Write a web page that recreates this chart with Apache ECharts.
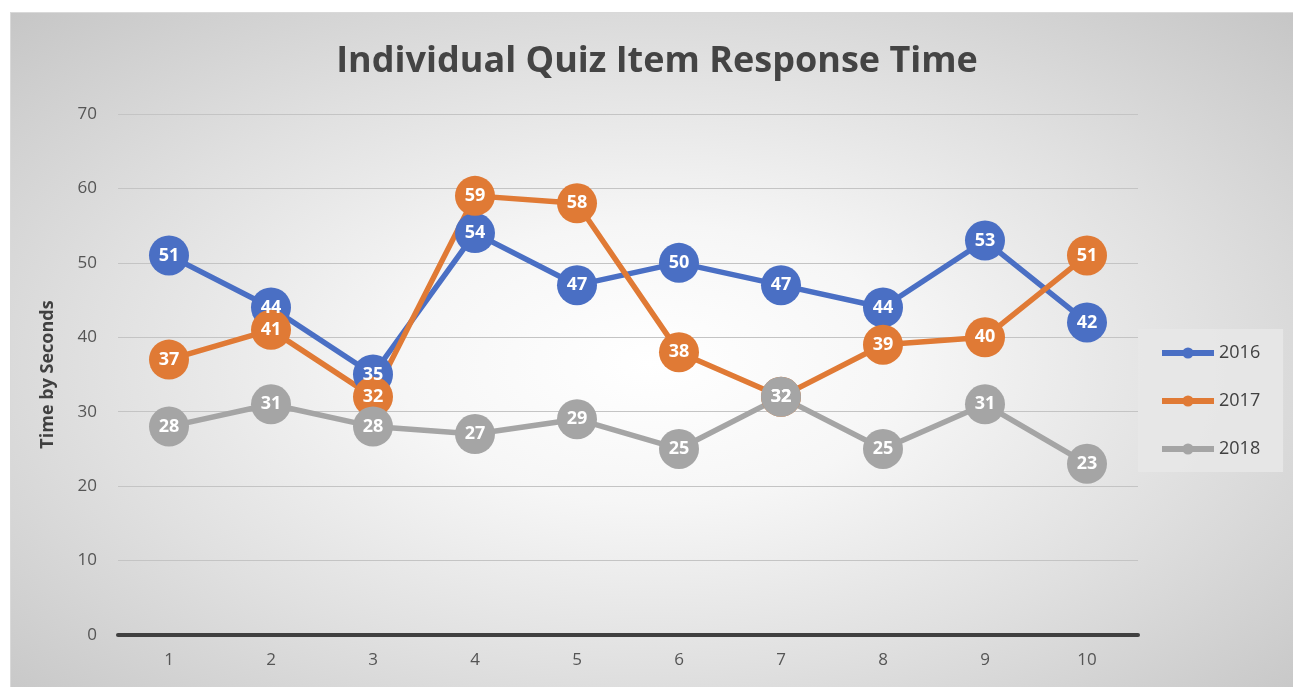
<!DOCTYPE html>
<html><head><meta charset="utf-8">
<script src="https://cdn.jsdelivr.net/npm/echarts@6/dist/echarts.min.js"></script>
<style>
html,body{margin:0;padding:0;background:#fff;}
#bg{position:absolute;left:10px;top:12px;width:1283px;height:675px;border-top:1px solid #d9d9d9;border-left:1px solid #d9d9d9;box-sizing:border-box;
background:radial-gradient(ellipse farthest-corner at 50% 52%, #ffffff 0%, #f6f6f6 28%, #e0e0e0 62%, #c6c6c6 100%);}
#chart{position:absolute;left:0;top:0;width:1293px;height:687px;}
</style></head>
<body>
<div id="bg"></div>
<div id="chart"></div>
<script>
const categories = ['1','2','3','4','5','6','7','8','9','10'];
const s2016 = [51,44,35,54,47,50,47,44,53,42];
const s2017 = [37,41,32,59,58,38,32,39,40,51];
const s2018 = [28,31,28,27,29,25,32,25,31,23];
const seriesNames = ['2016','2017','2018'];
const colors = ['#4a6fc4','#e07a35','#a5a5a5'];

const chart = echarts.init(document.getElementById('chart'), null, {renderer:'canvas'});
const font = '"Open Sans", "Noto Sans", sans-serif';
function mk(name, data, color){
  return {
    name, type:'line', data,
    symbol:'circle', symbolSize:40,
    lineStyle:{color, width:5.5},
    itemStyle:{color},
    label:{show:true, position:'inside', color:'#fff', fontWeight:'bold', fontSize:18, fontFamily:font},
    emphasis:{disabled:true},
    animation:false
  };
}
chart.setOption({
  backgroundColor:'transparent',
  title:{text:'Individual Quiz Item Response Time', left:652, top:39, textAlign:'center',
    textStyle:{fontFamily:font, fontWeight:'bold', fontSize:36, color:'#444444'}},
  legend:{orient:'vertical', left:1138, top:329, itemWidth:52, itemHeight:14, itemGap:30,
    padding:[15,23,14,21], backgroundColor:'rgba(232,232,232,0.85)',
    lineStyle:{width:6},
    textStyle:{fontFamily:font, fontSize:18, color:'#404040'}, data:seriesNames},
  grid:{left:118, right:155, top:114, bottom:52, containLabel:false},
  xAxis:{type:'category', data:categories, boundaryGap:true,
    axisLine:{lineStyle:{color:'#404040', width:4}}, axisTick:{show:false},
    axisLabel:{fontFamily:font, fontSize:17, color:'#555', margin:17}},
  yAxis:{type:'value', min:0, max:70, interval:10,
    name:'Time by Seconds', nameLocation:'middle', nameGap:61, nameRotate:90,
    nameTextStyle:{fontFamily:font, fontWeight:'bold', fontSize:18, color:'#404040'},
    axisLine:{show:false}, axisTick:{show:false},
    axisLabel:{fontFamily:font, fontSize:17, color:'#555', margin:21},
    splitLine:{lineStyle:{color:'#c4c4c4', width:1}}},
  series:[mk(seriesNames[0], s2016, colors[0]), mk(seriesNames[1], s2017, colors[1]), mk(seriesNames[2], s2018, colors[2])]
});
</script>
</body></html>
